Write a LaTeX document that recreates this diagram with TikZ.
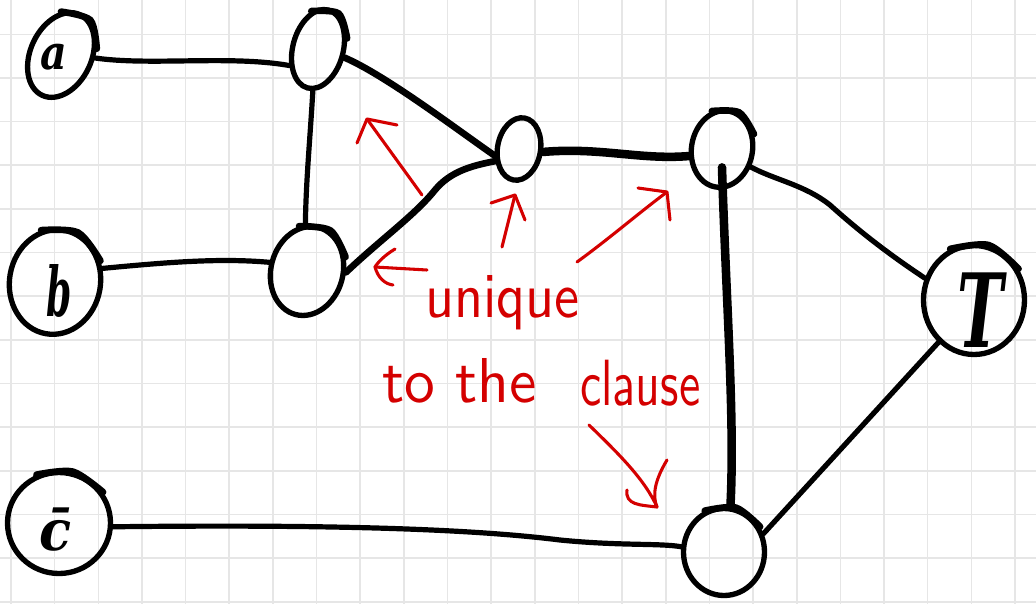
\documentclass[tikz,border=0pt]{standalone}
\usepackage{fontspec}
\usetikzlibrary{shapes.geometric,calc}
\newfontfamily\lblfont{DejaVu Serif}
\definecolor{gridc}{RGB}{230,230,230}
\definecolor{pen}{RGB}{212,0,0}
\begin{document}
\begin{tikzpicture}[x=0.75pt,y=-0.75pt,
  vert/.style={draw, ellipse, line width=4pt, inner sep=0pt},
  edge/.style={line width=3.9pt, line cap=round},
  mid/.style={line width=5pt, line cap=round},
  bold/.style={line width=6.4pt, line cap=round},
  heavy/.style={line width=5pt, line cap=round},
  note/.style={draw=pen, line width=2.3pt, line cap=round, line join=round},
  lbl/.style={inner sep=0pt, font=\lblfont\bfseries\itshape},
  txt/.style={text=pen, inner sep=0pt, anchor=base west, font=\sffamily}]
\fill[white] (0,0) rectangle (1036,604);
\useasboundingbox (0,0) rectangle (1036,604);
\foreach \k in {0,...,23} \draw[gridc, line width=1.2pt] ({11+43.65*\k},0) -- ({11+43.65*\k},604);
\foreach \k in {0,...,13} \draw[gridc, line width=1.2pt] (0,{34.3+43.65*\k}) -- (1036,{34.3+43.65*\k});

% vertices
\node[vert, minimum width=45.75pt, minimum height=66.75pt, rotate=-25] (a) at (61,55) {};
\node[vert, minimum width=68.25pt, minimum height=78.75pt, rotate=-10] (b) at (55,282) {};
\node[vert, minimum width=77.25pt, minimum height=75.75pt] (cb) at (59,523) {};
\node[vert, minimum width=37.8pt, minimum height=60.5pt, rotate=-15] (n1) at (318,49) {};
\node[vert, minimum width=54pt, minimum height=67.5pt, rotate=-15] (n2) at (307,271) {};
\node[vert, minimum width=32.25pt, minimum height=47.25pt, rotate=-10] (n3) at (519,149) {};
\node[vert, minimum width=45.75pt, minimum height=57.75pt, rotate=-10] (n4) at (722,149) {};
\node[vert, minimum width=60.75pt, minimum height=65.25pt] (n5) at (724,552) {};
\node[vert, minimum width=75.75pt, minimum height=81.75pt] (T) at (974,300) {};

\foreach \n in {a,b,cb,n1,n2,n4,n5,T}
  \draw[heavy] plot[smooth] coordinates {(\n.115) (\n.75) (\n.35)};

% labels
\node[lbl] (la) at (53.5,57.5) {\resizebox{20pt}{19pt}{a}};
\node[lbl] (lb) at (59.5,291) {\resizebox{19pt}{39pt}{b}};
\node[lbl] (lc) at (56,530) {\resizebox{24pt}{32pt}{c̄}};
\node[lbl] (lT) at (980,310) {\resizebox{34.5pt}{56pt}{T}};

% edges
\draw[edge] (a.20) .. controls (150,66) and (230,55) .. (n1.225);
\draw[edge] (n1.278) .. controls (310,140) and (306,180) .. (n2.107);
\draw[mid] (n1.-3) .. controls (385,75) and (455,128) .. (n3.205);
\draw[mid] (n2.13) .. controls (380,240) and (415,215) .. (435,190) .. controls (450,172) and (470,166) .. (n3.217);
\draw[bold] (n3.3) .. controls (600,147) and (640,160) .. (n4.202);
\draw[bold] ($(n4.center)!0.45!(n4.280)$) .. controls (726,300) and (735,420) .. (n5.82);
\draw[edge] (n4.338) .. controls (775,180) and (805,185) .. (830,205) .. controls (860,232) and (890,255) .. (T.156);
\draw[edge] (n5.25) -- (T.230);
\draw[edge] (b.26) .. controls (170,262) and (220,258) .. (n2.182);
\draw[edge] (cb.-4) .. controls (350,524) and (480,530) .. (560,540) .. controls (620,546) and (660,543) .. (n5.173);

% red annotations
\draw[note] (422,195) -- (367,119);
\draw[note] (357,143) -- (367,119) -- (397,125);
\draw[note] (502,247) -- (515,195);
\draw[note] (491,203) -- (515,195) -- (525,220);
\draw[note] (427,270) -- (375,267);
\draw[note] (395,249) .. controls (385,255) and (378,262) .. (375,267) .. controls (378,278) and (385,284) .. (393,285);
\draw[note] (577,262) .. controls (610,238) and (640,212) .. (667,192);
\draw[note] (638,188) -- (667,192) -- (670,220);
\draw[note] (589,425) .. controls (620,455) and (645,480) .. (657,507);
\draw[note] (667,460) .. controls (655,480) and (652,495) .. (657,507);
\draw[note] (627,490) .. controls (625,505) and (640,505) .. (657,507);

\node[txt] (t1) at (425,317) {\resizebox{116pt}{31.5pt}{unique}};
\node[txt] (t2) at (382,402) {\resizebox{116pt}{33pt}{to the}};
\node[txt] (t3) at (580,405) {\resizebox{90pt}{34pt}{clause}};
\end{tikzpicture}
\end{document}
